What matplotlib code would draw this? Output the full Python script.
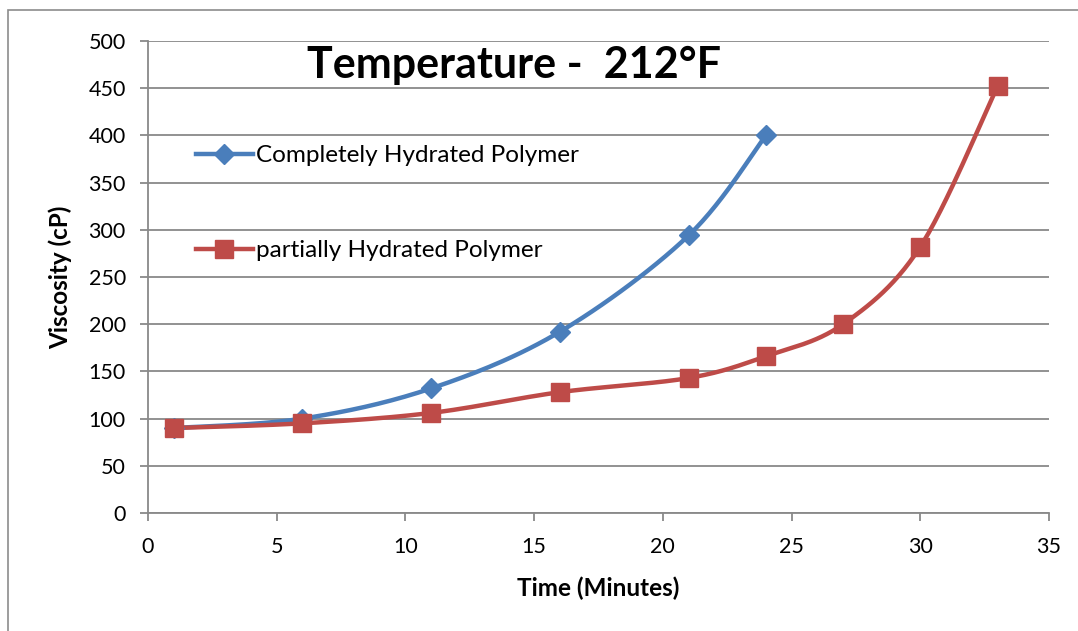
import numpy as np
import matplotlib
matplotlib.use("Agg")
from matplotlib import pyplot as plt
from matplotlib.patches import Rectangle

plt.rcParams['font.family'] = ['Lato', 'DejaVu Sans']

# viscosity readings (cP) against time (minutes)
time_complete = [1, 6, 11, 16, 21, 24]
visc_complete = [90, 100, 132, 192, 294, 400]

time_partial = [1, 6, 11, 16, 21, 24, 27, 30, 33]
visc_partial = [90, 95, 106, 128, 143, 166, 200, 282, 452]

x_ticks = [0, 5, 10, 15, 20, 25, 30, 35]
y_ticks = [0, 50, 100, 150, 200, 250, 300, 350, 400, 450, 500]

BLUE = '#4A7EBB'
RED = '#BE4B48'
GRID = '#898989'


def smooth(xs, ys, n=30):
    # cubic bezier through each pair of points, control points from the
    # neighbouring points (same idea as a spreadsheet "smoothed line")
    xs = np.asarray(xs, float)
    ys = np.asarray(ys, float)
    pts = np.column_stack([xs, ys])
    out = [pts[0]]
    t = np.linspace(0, 1, n)[1:, None]
    for i in range(len(pts) - 1):
        p0 = pts[max(i - 1, 0)]
        p1 = pts[i]
        p2 = pts[i + 1]
        p3 = pts[min(i + 2, len(pts) - 1)]
        c1 = p1 + (p2 - p0) / 6.0
        c2 = p2 - (p3 - p1) / 6.0
        seg = ((1 - t) ** 3 * p1 + 3 * (1 - t) ** 2 * t * c1
               + 3 * (1 - t) * t ** 2 * c2 + t ** 3 * p2)
        out.extend(seg)
    out = np.array(out)
    return out[:, 0], out[:, 1]


fig = plt.figure(figsize=(10.78, 6.31), dpi=100)
fig.patches.append(Rectangle((8 / 1078, -0.1), 1.2, 1 - 10 / 631 + 0.1,
                             transform=fig.transFigure, fill=False,
                             edgecolor='#8c8c8c', linewidth=1.2))
ax = fig.add_axes([148 / 1078, 1 - 513 / 631, 901 / 1078, 472 / 631])

ax.set_xlim(0, 35)
ax.set_ylim(0, 500)
ax.set_xticks(x_ticks)
ax.set_yticks(y_ticks)
ax.yaxis.grid(True, color=GRID, linewidth=1.3)
ax.set_axisbelow(True)
for side in ('top', 'right'):
    ax.spines[side].set_visible(False)
for side in ('left', 'bottom'):
    ax.spines[side].set_color(GRID)
    ax.spines[side].set_linewidth(1.3)
ax.tick_params(axis='both', direction='out', length=6, width=1.3,
               color=GRID, labelsize=15.5)
ax.tick_params(axis='x', pad=11)
ax.tick_params(axis='y', pad=10)

sx, sy = smooth(time_complete, visc_complete)
ax.plot(sx, sy, color=BLUE, linewidth=3.2, solid_capstyle='round', zorder=3)
ax.plot(time_complete, visc_complete, linestyle='none', marker='D',
        markersize=10, color=BLUE, zorder=4)

sx, sy = smooth(time_partial, visc_partial)
ax.plot(sx, sy, color=RED, linewidth=3.2, solid_capstyle='round', zorder=3)
ax.plot(time_partial, visc_partial, linestyle='none', marker='s',
        markersize=13, color=RED, zorder=4)

# legend handles: line with marker
h1, = ax.plot([], [], color=BLUE, linewidth=3.2, marker='D', markersize=10)
h2, = ax.plot([], [], color=RED, linewidth=3.2, marker='s', markersize=13)
ax.legend([h1, h2], ['Completely Hydrated Polymer', 'partially Hydrated Polymer'],
          loc='upper left', bbox_to_anchor=(0.042, 0.80), frameon=False,
          fontsize=17.5, labelspacing=3.05, handlelength=2.35, handletextpad=0.12,
          borderaxespad=0)

ax.text(0.176, 0.949, 'Temperature -  212°F', transform=ax.transAxes,
        fontsize=31, fontweight='bold', va='center', ha='left')

ax.set_xlabel('Time (Minutes)', fontsize=17.5, fontweight='bold', labelpad=14)
ax.set_ylabel('Viscosity (cP)', fontsize=17.5, fontweight='bold', labelpad=12)

fig.savefig('out.png', dpi=100)
